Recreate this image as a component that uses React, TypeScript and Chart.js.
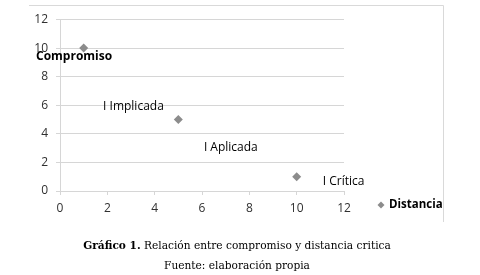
import React, { useEffect, useRef } from "react";
import { Chart, registerables } from "chart.js";
Chart.register(...registerables);

const seriesName = "Distancia";
const axisTitle = "Compromiso";
const xValues = [1, 5, 10];
const yValues = [10, 5, 1];
const xTicks = [0, 2, 4, 6, 8, 10, 12];
const yTicks = [0, 2, 4, 6, 8, 10, 12];
const noteTexts = ["I Implicada", "I Aplicada", "I Crítica"];
const noteX = [1.82, 6.08, 11.1];
const noteY = [5.88, 3.01, 0.63];
const captionBold = "Gráfico 1.";
const captionText = " Relación entre compromiso y distancia critica";
const sourceText = "Fuente: elaboración propia";

const GRID = "#d6d6d6";
const MARK = "#8c8c8c";
const TEXT = "#303030";
const FONT = "'Open Sans', sans-serif";

const extras = {
  id: "extras",
  beforeDraw(chart: any) {
    const ctx = chart.ctx;
    ctx.save();
    ctx.strokeStyle = "#d9d9d9";
    ctx.lineWidth = 1;
    ctx.beginPath();
    ctx.moveTo(29, 5.5);
    ctx.lineTo(443.5, 5.5);
    ctx.lineTo(443.5, 222);
    ctx.stroke();
    ctx.restore();
  },
  afterDraw(chart: any) {
    const ctx = chart.ctx;
    const xs = chart.scales.x;
    const ys = chart.scales.y;
    const area = chart.chartArea;
    ctx.save();
    ctx.fillStyle = "#000";
    ctx.textBaseline = "middle";
    ctx.font = `12px ${FONT}`;
    ctx.textAlign = "left";
    noteTexts.forEach((t, i) => {
      ctx.fillText(t, xs.getPixelForValue(noteX[i]), ys.getPixelForValue(noteY[i]));
    });
    ctx.font = `bold 12px ${FONT}`;
    ctx.fillText(axisTitle, area.left - 24, area.top + 37);
    // legend
    const lx = area.right + 37;
    const ly = area.bottom + 14;
    const r = 3.5;
    ctx.fillStyle = MARK;
    ctx.beginPath();
    ctx.moveTo(lx, ly - r);
    ctx.lineTo(lx + r, ly);
    ctx.lineTo(lx, ly + r);
    ctx.lineTo(lx - r, ly);
    ctx.closePath();
    ctx.fill();
    ctx.fillStyle = "#000";
    ctx.font = `bold 11.5px ${FONT}`;
    ctx.fillText(seriesName, lx + 8, ly);
    ctx.restore();
  },
};

export default function App() {
  const ref = useRef<HTMLCanvasElement>(null);
  useEffect(() => {
    if (!ref.current) return;
    const chart = new Chart(ref.current, {
      type: "scatter",
      data: {
        datasets: [
          {
            label: seriesName,
            data: xValues.map((x, i) => ({ x, y: yValues[i] })),
            pointStyle: "rectRot",
            pointRadius: 4.5,
            backgroundColor: MARK,
            borderColor: MARK,
            borderWidth: 0,
          },
        ],
      },
      options: {
        responsive: false,
        animation: false,
        layout: { padding: { top: 19.5, right: 136, left: 0, bottom: 0 } },
        plugins: { legend: { display: false }, tooltip: { enabled: false } },
        scales: {
          x: {
            type: "linear",
            min: 0,
            max: 12,
            afterBuildTicks: (s: any) => {
              s.ticks = xTicks.map((v) => ({ value: v }));
            },
            ticks: { padding: 6, color: TEXT, font: { family: FONT, size: 12 } },
            grid: { drawOnChartArea: false, drawTicks: true, tickLength: 4, color: GRID },
            border: { color: GRID },
            afterFit: (s: any) => {
              s.height = 84;
            },
          },
          y: {
            type: "linear",
            min: 0,
            max: 12,
            afterBuildTicks: (s: any) => {
              s.ticks = yTicks.map((v) => ({ value: v }));
            },
            ticks: { padding: 8, color: TEXT, font: { family: FONT, size: 12 } },
            grid: { color: GRID, tickLength: 4 },
            border: { color: GRID },
            afterFit: (s: any) => {
              s.width = 60;
            },
          },
        },
      },
      plugins: [extras],
    });
    return () => chart.destroy();
  }, []);
  return (
    <div style={{ position: "absolute", left: 0, top: 0, width: 480, height: 275, background: "#fff" }}>
      <canvas ref={ref} width={480} height={275} style={{ display: "block" }} />
      <div
        style={{
          position: "absolute",
          left: 0,
          width: 474,
          top: 238,
          textAlign: "center",
          fontFamily: "'DejaVu Serif', serif",
          fontSize: 10.6,
          lineHeight: "14px",
          color: "#000",
          whiteSpace: "nowrap",
        }}
      >
        <b>{captionBold}</b>
        {captionText}
      </div>
      <div
        style={{
          position: "absolute",
          left: 0,
          width: 474,
          top: 258,
          textAlign: "center",
          fontFamily: "'DejaVu Serif', serif",
          fontSize: 10.6,
          lineHeight: "14px",
          color: "#000",
          whiteSpace: "nowrap",
        }}
      >
        {sourceText}
      </div>
    </div>
  );
}
